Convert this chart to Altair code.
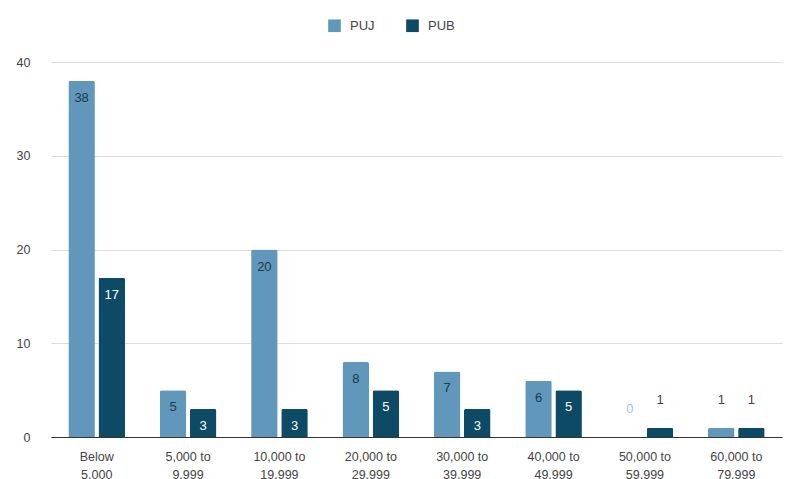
import altair as alt
import pandas as pd

# Income brackets and counts per series
categories = ["Below 5,000", "5,000 to 9,999", "10,000 to 19,999", "20,000 to 29,999",
              "30,000 to 39,999", "40,000 to 49,999", "50,000 to 59,999", "60,000 to 79,999"]
puj = [38, 5, 20, 8, 7, 6, 0, 1]
pub = [17, 3, 3, 5, 3, 5, 1, 1]
series = ["PUJ", "PUB"]

rows = []
for c, a, b in zip(categories, puj, pub):
    rows.append({"bracket": c, "series": "PUJ", "value": a})
    rows.append({"bracket": c, "series": "PUB", "value": b})
df = pd.DataFrame(rows)

FONT = "Liberation Sans"
colors = ["#6097ba", "#0c4a66"]

label_expr = (
    "indexof(datum.value, ' to ') > 0 ? "
    "[slice(datum.value, 0, indexof(datum.value, ' to ') + 3), "
    "slice(datum.value, indexof(datum.value, ' to ') + 4)] : split(datum.value, ' ')"
)

x = alt.X("bracket:N", sort=categories, title=None,
          scale=alt.Scale(range=[11, 742], paddingInner=0.38, paddingOuter=0.19),
          axis=alt.Axis(labelAngle=0, labelExpr=label_expr, labelFont=FONT, labelFontSize=12.5,
                        labelColor="#444", labelPadding=13, labelLineHeight=18,
                        ticks=False, grid=False, domainColor="#333", domainWidth=1.2))
xoff = alt.XOffset("series:N", sort=series, scale=alt.Scale(paddingInner=0.12))
y = alt.Y("value:Q", title=None,
          scale=alt.Scale(domain=[0, 40]),
          axis=alt.Axis(values=[0, 10, 20, 30, 40], labelFont=FONT, labelFontSize=12.5,
                        labelColor="#444", labelPadding=10, domain=False, ticks=False,
                        gridColor="#dcdcdc", gridWidth=1))

base = alt.Chart(df).encode(x=x, xOffset=xoff)

bars = base.mark_bar(cornerRadiusTopLeft=2, cornerRadiusTopRight=2).encode(
    y=y,
    color=alt.Color("series:N", sort=series,
                    scale=alt.Scale(domain=series, range=colors),
                    legend=alt.Legend(title=None, orient="none", legendX=288, legendY=-43,
                                      direction="horizontal", symbolType="square",
                                      symbolSize=160, symbolStrokeWidth=0,
                                      labelFont=FONT, labelFontSize=13, labelColor="#444",
                                      columnPadding=31, labelOffset=9)),
)

inside = base.transform_filter("datum.value >= 2").mark_text(
    baseline="top", dy=11, font=FONT, fontSize=13
).encode(
    y="value:Q",
    text="value:Q",
    color=alt.condition("datum.series == 'PUJ'", alt.value("#1b3a4d"), alt.value("#ffffff")),
)

outside = base.transform_filter("datum.value < 2").mark_text(
    baseline="bottom", dy=-21, font=FONT, fontSize=13
).encode(
    y="value:Q",
    text="value:Q",
    color=alt.condition("datum.value == 0", alt.value("#a8c2d4"), alt.value("#444444")),
)

chart = alt.layer(bars, inside, outside).properties(
    width=743, height=375,
    background="white",
    autosize=alt.AutoSizeParams(type="none"),
    padding={"left": 40, "top": 62, "right": 2, "bottom": 42},
).configure_view(stroke="transparent", strokeWidth=0)

chart.save("out.html", embed_options={"renderer": "svg", "actions": False})
